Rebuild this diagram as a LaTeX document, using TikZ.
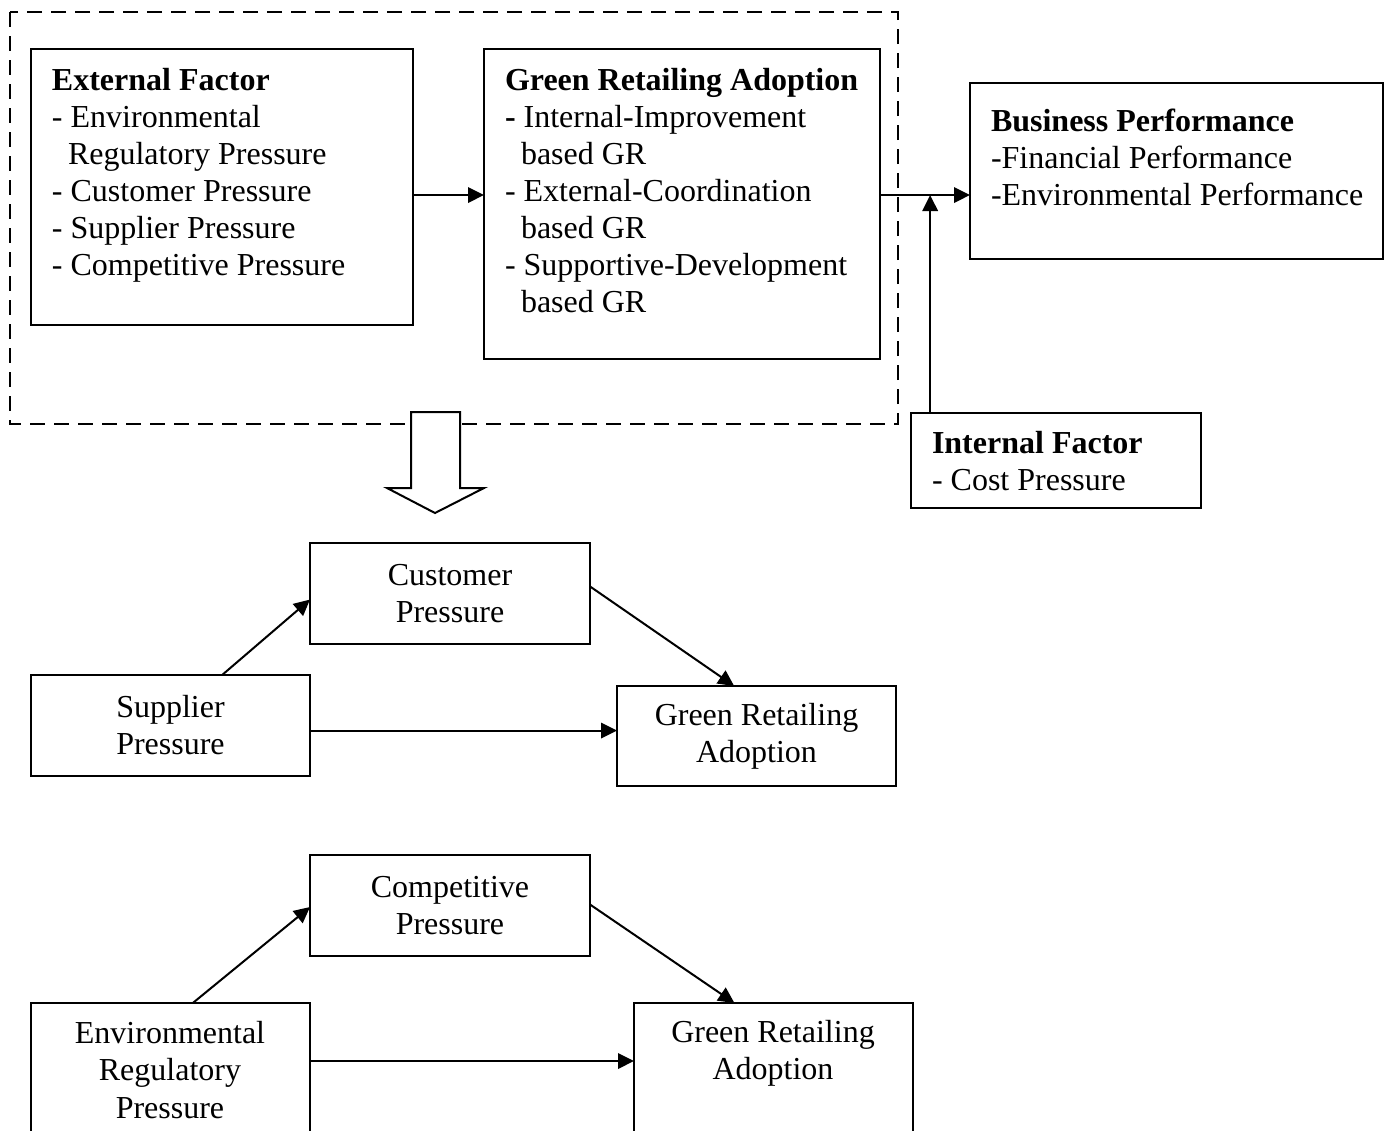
\documentclass[tikz,border=0pt]{standalone}
\usepackage{fontspec}
\setmainfont{Liberation Serif}
\usetikzlibrary{arrows.meta,calc}

\tikzset{
  box/.style={draw, line width=0.8pt, inner sep=0pt, outer sep=0pt, anchor=north west},
  body/.style={font=\fontsize{12}{13.9}\selectfont},
  txt/.style={body, inner sep=0pt, outer sep=0pt, align=left, anchor=north west},
  ctxt/.style={body, inner sep=0pt, outer sep=0pt, align=center},
  arr/.style={line width=0.75pt, -{Triangle[length=6pt,width=5.8pt]}},
  frame/.style={draw, line width=0.75pt, dash pattern=on 5.5pt off 3.5pt},
}
% box with its top-left corner at (#3,#4) and bottom-right corner at (#5,#6)
\newcommand{\makepanel}[6][]{%
  \node[box, #1, minimum width={(#5-#3)*0.375pt}, minimum height={(#6-#4)*0.375pt}]
    (#2) at (#3,#4) {};}

\begin{document}
\begin{tikzpicture}[x=0.375pt, y=-0.375pt]
\useasboundingbox (0,0) rectangle (1391,1130);
\clip (0,0) rectangle (1391,1130);

% ---------- research model ----------
\draw[frame] (10,12) rectangle (898,424);

\makepanel{ext}{31}{49}{413}{325}
\node[txt] (ext-t) at (52,68)
  {\textbf{External Factor}\\
   - Environmental\\
   \hspace*{6pt}Regulatory Pressure\\
   - Customer Pressure\\
   - Supplier Pressure\\
   - Competitive Pressure};

\makepanel{gra}{484}{49}{880}{359}
\node[txt] (gra-t) at (505,68)
  {\textbf{Green Retailing Adoption}\\
   \textbf{-} Internal-Improvement\\
   \hspace*{6pt}based GR\\
   - External-Coordination\\
   \hspace*{6pt}based GR\\
   - Supportive-Development\\
   \hspace*{6pt}based GR};

\makepanel{bp}{970}{83}{1383}{259}
\node[txt] (bp-t) at (991,109)
  {\textbf{Business Performance}\\
   -Financial Performance\\
   -Environmental Performance};

\makepanel{ifa}{911}{413}{1201}{508}
\node[txt] (ifa-t) at (932,431)
  {\textbf{Internal Factor}\\
   - Cost Pressure};

\coordinate (a1) at ($(ext.north east)!0.529!(ext.south east)$);
\draw[arr] (a1) -- (a1 -| gra.west);
\coordinate (a2) at ($(gra.north east)!0.471!(gra.south east)$);
\draw[arr] (a2) -- (a2 -| bp.west);
\coordinate (a3) at ($(ifa.north west)!0.066!(ifa.north east)$);
\draw[arr] (a3) -- (a3 |- a2);

% hollow block arrow leading to the hypotheses
\draw[line width=0.75pt, fill=white]
  (411,412) -- (460,412) -- (460,488) -- (484,488) -- (435,513)
  -- (387,488) -- (411,488) -- cycle;

% ---------- hypothesis 1 ----------
\makepanel[ctxt]{cus}{310}{543}{590}{644}
\node[ctxt] at (cus.center) {Customer\\Pressure};
\makepanel[ctxt]{sup}{31}{675}{310}{776}
\node[ctxt] at (sup.center) {Supplier\\Pressure};
\makepanel[ctxt]{gr1}{617}{686}{896}{786}
\node[ctxt] at (gr1.center) {Green Retailing\\Adoption};

\draw[arr] ($(sup.north west)!0.685!(sup.north east)$) -- ($(cus.north west)!0.56!(cus.south west)$);
\draw[arr] ($(cus.north east)!0.43!(cus.south east)$) -- ($(gr1.north west)!0.42!(gr1.north east)$);
\coordinate (b1) at ($(sup.north east)!0.55!(sup.south east)$);
\draw[arr] (b1) -- (b1 -| gr1.west);

% ---------- hypothesis 2 ----------
\makepanel[ctxt]{cmp}{310}{855}{590}{956}
\node[ctxt] at (cmp.center) {Competitive\\Pressure};
\makepanel{erp}{31}{1003}{310}{1180}
\node[ctxt] (erp-t) at (170,1070) {Environmental\\Regulatory\\Pressure};
\makepanel{gr2}{634}{1003}{913}{1180}
\node[ctxt] (gr2-t) at (773,1053) {Green Retailing\\Adoption};

\draw[arr] ($(erp.north west)!0.58!(erp.north east)$) -- ($(cmp.north west)!0.515!(cmp.south west)$);
\draw[arr] ($(cmp.north east)!0.49!(cmp.south east)$) -- ($(gr2.north west)!0.36!(gr2.north east)$);
\coordinate (c1) at (erp.north east |- 0,1061);
\draw[arr] (c1) -- (c1 -| gr2.west);

\end{tikzpicture}
\end{document}
